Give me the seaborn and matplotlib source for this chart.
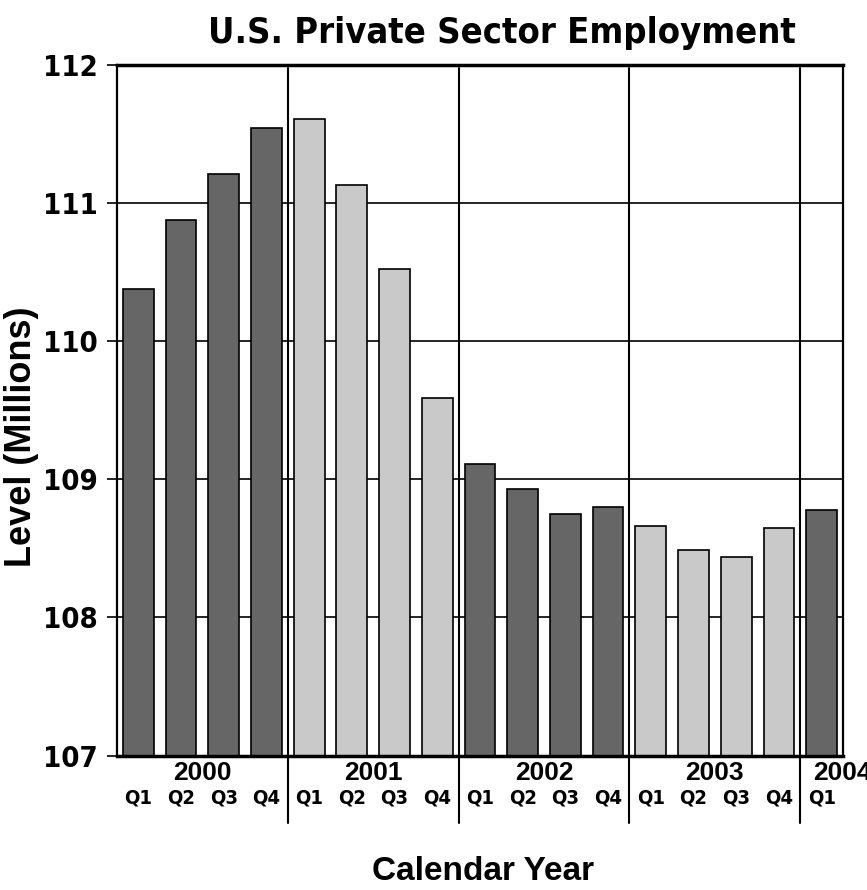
import matplotlib
matplotlib.use("Agg")
import matplotlib.pyplot as plt
import matplotlib.transforms as mtransforms
from matplotlib import font_manager
from matplotlib.font_manager import FontProperties
import pandas as pd
import seaborn as sns

# ── data ──────────────────────────────────────────────────────────────────────
YEARS    = ["2000", "2001", "2002", "2003", "2004"]
QUARTERS = ["Q1", "Q2", "Q3", "Q4"]
YEAR_OF_BAR = ["2000"] * 4 + ["2001"] * 4 + ["2002"] * 4 + ["2003"] * 4 + ["2004"]
QTR_OF_BAR  = QUARTERS * 4 + ["Q1"]
LEVEL = [110.38, 110.88, 111.21, 111.54,
         111.61, 111.13, 110.52, 109.59,
         109.11, 108.93, 108.75, 108.80,
         108.66, 108.49, 108.44, 108.65,
         108.78]
Y_TICKS = [107, 108, 109, 110, 111, 112]

DARK, LIGHT = "#666666", "#c9c9c9"
PALETTE = {"2000": DARK, "2001": LIGHT, "2002": DARK, "2003": LIGHT, "2004": DARK}

sns.set_theme(style="white")
plt.rcParams.update({"text.color": "black", "axes.labelcolor": "black",
                     "ytick.color": "black", "xtick.color": "black"})

names = {f.name for f in font_manager.fontManager.ttflist}
WIDE = "Liberation Sans" if "Liberation Sans" in names else "DejaVu Sans"
plt.rcParams["font.family"] = [WIDE, "DejaVu Sans"]


def _condensed_bold():
    # look for any installed narrow/condensed bold face
    for f in font_manager.fontManager.ttflist:
        st = str(f.stretch).lower()
        nm = f.name.lower()
        narrow = ("condensed" in st or "narrow" in nm or "condensed" in nm)
        bold = (f.weight in ("bold", 700, 600, "semibold", "demibold")
                or (isinstance(f.weight, int) and f.weight >= 600))
        if narrow and bold and f.style == "normal":
            return f.fname
    return None


_cf = _condensed_bold()


def narrow(size):
    if _cf:
        return FontProperties(fname=_cf, size=size)
    # fallback: Arial-like bold, a little smaller
    return FontProperties(family=WIDE, weight="bold", size=size * 0.85)


df = pd.DataFrame({
    "period": [f"{y} {q}" for y, q in zip(YEAR_OF_BAR, QTR_OF_BAR)],
    "year": YEAR_OF_BAR,
    "quarter": QTR_OF_BAR,
    "level": LEVEL,
})

fig = plt.figure(figsize=(8.67, 8.9), dpi=100)
ax = fig.add_axes([0.1349, 0.1511, 0.8374, 0.776])

sns.barplot(data=df, x="period", y="level", hue="year", palette=PALETTE,
            width=0.72, edgecolor="black", linewidth=1.2, saturation=1,
            legend=False, ax=ax, zorder=2)

ax.set_ylim(107, 112)
ax.set_xlim(-0.5, len(df) - 0.5)
ax.set_yticks(Y_TICKS)
ax.set_yticklabels([str(t) for t in Y_TICKS], fontproperties=narrow(21))
ax.tick_params(axis="y", direction="out", length=7, width=1.2, color="black",
               left=True, pad=7)
ax.set_xticks([])
ax.set_xlabel("")
ax.set_ylabel("")

ax.set_axisbelow(True)
ax.yaxis.grid(True, color="black", lw=1.2)

for side, lw in {"top": 2.5, "bottom": 2.5, "left": 1.6, "right": 1.6}.items():
    ax.spines[side].set_color("black")
    ax.spines[side].set_linewidth(lw)

# year separators, running down through the label area
trans = mtransforms.blended_transform_factory(ax.transData, ax.transAxes)
n_years = [YEAR_OF_BAR.count(y) for y in YEARS]
edge = -0.5
for i, y in enumerate(YEARS):
    start = edge
    edge += n_years[i]
    mid = (start + edge) / 2
    if i < len(YEARS) - 1:
        ax.plot([edge, edge], [-0.097, 0.995], color="black", lw=1.5,
                transform=trans, clip_on=False, zorder=1.5)
        ax.text(mid, -0.026, y, transform=trans, ha="center", va="center",
                fontsize=19, fontweight="bold", family=WIDE)
    else:
        ax.text(start + 0.3, -0.026, y, transform=trans, ha="left", va="center",
                fontsize=19, fontweight="bold", family=WIDE)

for i, q in enumerate(df["quarter"]):
    ax.text(i, -0.061, q, transform=trans, ha="center", va="center",
            fontproperties=narrow(14.5))

fig.text(0.579, 0.963, "U.S. Private Sector Employment", ha="center",
         va="center", fontproperties=narrow(26))
fig.text(0.025, 0.509, "Level (Millions)", rotation=90, ha="center",
         va="center", fontsize=26, fontweight="bold", family=WIDE)
fig.text(0.557, 0.021, "Calendar Year", ha="center", va="center",
         fontsize=24, fontweight="bold", family=WIDE)

fig.savefig("out.png", dpi=100)
